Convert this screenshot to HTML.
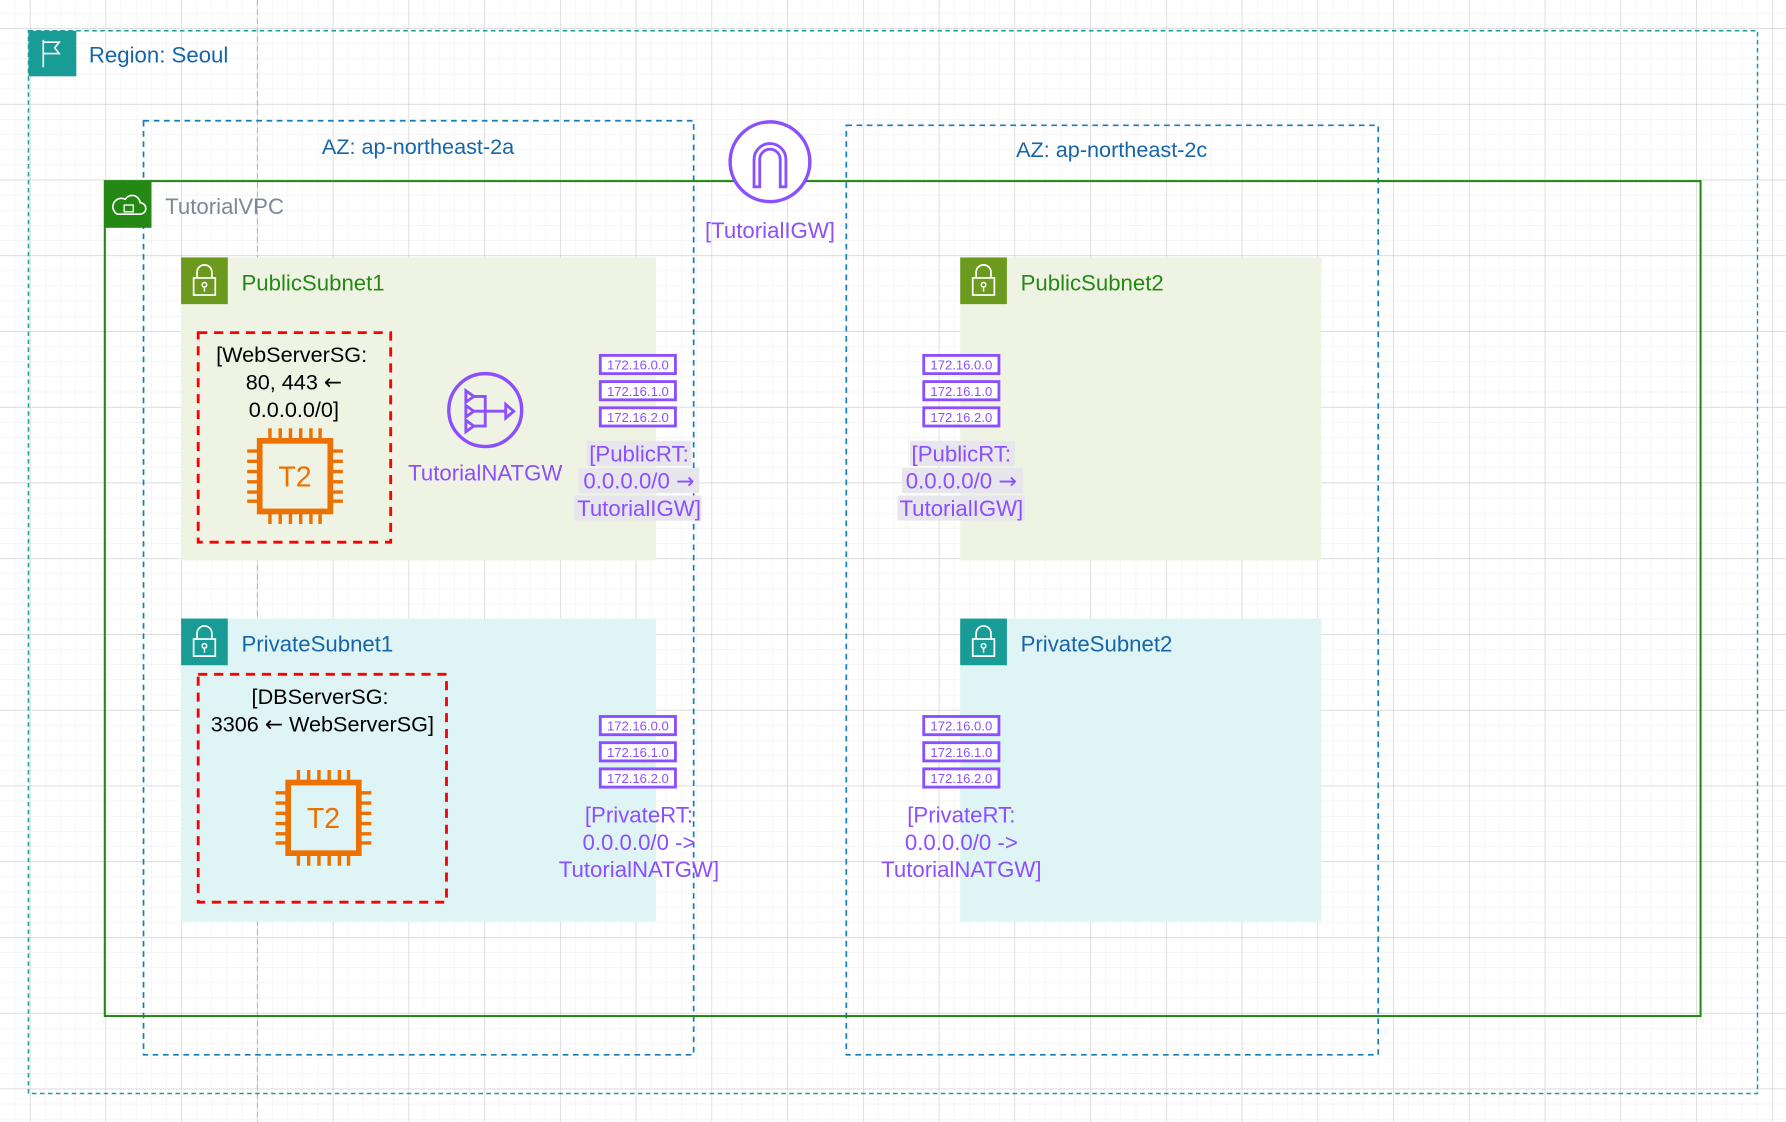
<!DOCTYPE html>
<html><head><meta charset="utf-8"><style>
html,body{margin:0;padding:0;background:#fff;}
svg{display:block;}
text{font-family:"Liberation Sans",sans-serif;}
.ar{font-family:"DejaVu Sans",sans-serif;}
</style></head><body>
<svg width="1786" height="1122" viewBox="0 0 1568 985" preserveAspectRatio="none" xmlns="http://www.w3.org/2000/svg">
<defs>
<pattern id="minor" x="26.2" y="24.7" width="13.3" height="13.3" patternUnits="userSpaceOnUse">
<path d="M0 0 H13.3 M0 0 V13.3" stroke="#ebebeb" stroke-width="0.8" fill="none"/>
</pattern>
<pattern id="major" x="26.2" y="24.7" width="66.5" height="66.5" patternUnits="userSpaceOnUse">
<path d="M0 0 H66.5 M0 0 V66.5" stroke="#cdcdcd" stroke-width="1" fill="none"/>
</pattern>
<g id="lock">
<rect x="0" y="0" width="41" height="41"/>
<path d="M14 18 V13 a6.5 6.5 0 0 1 13 0 V18" fill="none" stroke="#fff" stroke-width="1.5"/>
<rect x="11" y="18" width="19" height="15" fill="none" stroke="#fff" stroke-width="1.5"/>
<circle cx="20.5" cy="24" r="2" fill="none" stroke="#fff" stroke-width="1.3"/>
<path d="M20.5 26 V30" stroke="#fff" stroke-width="1.3"/>
</g>
<g id="chip">
<rect x="-31" y="-31" width="62" height="62" fill="none" stroke="#ED7100" stroke-width="5"/>
<g stroke="#ED7100" stroke-width="3">
<path d="M-22 -33 V-42 M-13 -33 V-42 M-4 -33 V-42 M5 -33 V-42 M14 -33 V-42 M22 -33 V-42"/>
<path d="M-22 33 V42 M-13 33 V42 M-4 33 V42 M5 33 V42 M14 33 V42 M22 33 V42"/>
<path d="M-33 -22 H-42 M-33 -13 H-42 M-33 -4 H-42 M-33 5 H-42 M-33 14 H-42 M-33 22 H-42"/>
<path d="M33 -22 H42 M33 -13 H42 M33 -4 H42 M33 5 H42 M33 14 H42 M33 22 H42"/>
</g>
<text x="0" y="9" text-anchor="middle" font-size="25" fill="#ED7100">T2</text>
</g>
<g id="rt">
<rect x="0" y="0" width="66" height="16" fill="#fff" stroke="#8C4FFF" stroke-width="2.5"/>
<text x="33" y="12.5" text-anchor="middle" font-size="11.5" fill="#8C4FFF">172.16.0.0</text>
<rect x="0" y="23" width="66" height="16" fill="#fff" stroke="#8C4FFF" stroke-width="2.5"/>
<text x="33" y="35.5" text-anchor="middle" font-size="11.5" fill="#8C4FFF">172.16.1.0</text>
<rect x="0" y="46" width="66" height="16" fill="#fff" stroke="#8C4FFF" stroke-width="2.5"/>
<text x="33" y="58.5" text-anchor="middle" font-size="11.5" fill="#8C4FFF">172.16.2.0</text>
</g>
</defs>
<rect width="1568" height="985" fill="#fff"/>
<rect width="1568" height="985" fill="url(#minor)"/>
<rect width="1568" height="985" fill="url(#major)"/>
<line x1="226" y1="0" x2="226" y2="985" stroke="#b8b8b8" stroke-width="1" stroke-dasharray="5 3"/>

<rect x="25" y="27" width="1518" height="933" fill="none" stroke="#1A9C96" stroke-width="1.3" stroke-dasharray="4 3"/>
<rect x="25" y="27" width="42" height="40" fill="#1A9C96"/>
<path d="M38 35 V59 M38 37 H52 L48 42 L52 47 H38" fill="none" stroke="#fff" stroke-width="1.4"/>
<text x="78" y="55" font-size="19.5" fill="#1565a8">Region: Seoul</text>

<rect x="126" y="106" width="483" height="820" fill="none" stroke="#147EBA" stroke-width="1.5" stroke-dasharray="5 4"/>
<text x="367" y="135" text-anchor="middle" font-size="19" fill="#1565a8">AZ: ap-northeast-2a</text>
<rect x="743" y="110" width="467" height="816" fill="none" stroke="#147EBA" stroke-width="1.5" stroke-dasharray="5 4"/>
<text x="976" y="138" text-anchor="middle" font-size="19" fill="#1565a8">AZ: ap-northeast-2c</text>

<rect x="92" y="159" width="1401" height="733" fill="none" stroke="#248814" stroke-width="1.8"/>
<rect x="92" y="159" width="41" height="41" fill="#248814"/>
<path d="M103 188 h20 a5 5 0 0 0 0 -10 a7 7 0 0 0 -13 -3 a5 5 0 0 0 -7 13 z" fill="none" stroke="#fff" stroke-width="1.4"/>
<rect x="109" y="180" width="8" height="6" fill="none" stroke="#fff" stroke-width="1.2"/>
<text x="145" y="188" font-size="19.5" fill="#7d8998">TutorialVPC</text>

<rect x="159" y="226" width="417" height="266" fill="#EFF3E3"/>
<use href="#lock" x="159" y="226" fill="#6b9a1e"/>
<text x="212" y="255" font-size="19.5" fill="#248814">PublicSubnet1</text>
<rect x="159" y="543" width="417" height="266" fill="#DFF4F5"/>
<use href="#lock" x="159" y="543" fill="#1A9C96"/>
<text x="212" y="572" font-size="19.5" fill="#1565a8">PrivateSubnet1</text>
<rect x="843" y="226" width="317" height="266" fill="#EFF3E3"/>
<use href="#lock" x="843" y="226" fill="#6b9a1e"/>
<text x="896" y="255" font-size="19.5" fill="#248814">PublicSubnet2</text>
<rect x="843" y="543" width="317" height="266" fill="#DFF4F5"/>
<use href="#lock" x="843" y="543" fill="#1A9C96"/>
<text x="896" y="572" font-size="19.5" fill="#1565a8">PrivateSubnet2</text>

<circle cx="676" cy="142" r="35" fill="#fff" stroke="#8C4FFF" stroke-width="3"/>
<path d="M662 164 V140 a14 14 0 0 1 28 0 V164 h-5 V140 a9 9 0 0 0 -18 0 V164 z" fill="none" stroke="#8C4FFF" stroke-width="2.5"/>
<text x="676" y="209" text-anchor="middle" font-size="19.5" fill="#8C4FFF">[TutorialIGW]</text>

<rect x="174" y="292" width="169" height="184" fill="none" stroke="#FF0000" stroke-width="2.5" stroke-dasharray="8 6"/>
<text x="256" y="318" text-anchor="middle" font-size="19" fill="#000">[WebServerSG:</text>
<text x="258" y="342" text-anchor="middle" font-size="19" fill="#000">80, 443 <tspan class="ar">←</tspan></text>
<text x="258" y="366" text-anchor="middle" font-size="19" fill="#000">0.0.0.0/0]</text>
<use href="#chip" x="259" y="418"/>

<rect x="174" y="592" width="218" height="200" fill="none" stroke="#FF0000" stroke-width="2.5" stroke-dasharray="8 6"/>
<text x="281" y="618" text-anchor="middle" font-size="19" fill="#000">[DBServerSG:</text>
<text x="283" y="642" text-anchor="middle" font-size="19" fill="#000">3306 <tspan class="ar">←</tspan> WebServerSG]</text>
<use href="#chip" x="284" y="718"/>

<circle cx="426" cy="360" r="32" fill="none" stroke="#8C4FFF" stroke-width="3"/>
<g fill="none" stroke="#8C4FFF" stroke-width="2.5">
<path d="M409 343 l7 5 l-7 5 z M409 356 l7 5 l-7 5 z M409 369 l7 5 l-7 5 z"/>
<path d="M416 348 h10 v26 h-10 M416 361 h28"/>
<path d="M444 355 l7 6 l-7 6 z"/>
</g>
<text x="426" y="422" text-anchor="middle" font-size="19.5" fill="#8C4FFF">TutorialNATGW</text>

<use href="#rt" x="527" y="312"/>
<rect x="515" y="387" width="92" height="22" fill="#e6e6ec"/>
<rect x="508" y="411" width="106" height="22" fill="#e6e6ec"/>
<rect x="504" y="435" width="112" height="22" fill="#e6e6ec"/>
<text x="561" y="405" text-anchor="middle" font-size="19.5" fill="#8C4FFF">[PublicRT:</text>
<text x="561" y="429" text-anchor="middle" font-size="19.5" fill="#8C4FFF">0.0.0.0/0 <tspan class="ar">→</tspan></text>
<text x="561" y="453" text-anchor="middle" font-size="19.5" fill="#8C4FFF">TutorialIGW]</text>

<use href="#rt" x="811" y="312"/>
<rect x="799" y="387" width="92" height="22" fill="#e6e6ec"/>
<rect x="792" y="411" width="106" height="22" fill="#e6e6ec"/>
<rect x="788" y="435" width="112" height="22" fill="#e6e6ec"/>
<text x="844" y="405" text-anchor="middle" font-size="19.5" fill="#8C4FFF">[PublicRT:</text>
<text x="844" y="429" text-anchor="middle" font-size="19.5" fill="#8C4FFF">0.0.0.0/0 <tspan class="ar">→</tspan></text>
<text x="844" y="453" text-anchor="middle" font-size="19.5" fill="#8C4FFF">TutorialIGW]</text>

<use href="#rt" x="527" y="629"/>
<text x="561" y="722" text-anchor="middle" font-size="19.5" fill="#8C4FFF">[PrivateRT:</text>
<text x="561" y="746" text-anchor="middle" font-size="19.5" fill="#8C4FFF">0.0.0.0/0 -&gt;</text>
<text x="561" y="770" text-anchor="middle" font-size="19.5" fill="#8C4FFF">TutorialNATGW]</text>

<use href="#rt" x="811" y="629"/>
<text x="844" y="722" text-anchor="middle" font-size="19.5" fill="#8C4FFF">[PrivateRT:</text>
<text x="844" y="746" text-anchor="middle" font-size="19.5" fill="#8C4FFF">0.0.0.0/0 -&gt;</text>
<text x="844" y="770" text-anchor="middle" font-size="19.5" fill="#8C4FFF">TutorialNATGW]</text>
</svg>
</body></html>
